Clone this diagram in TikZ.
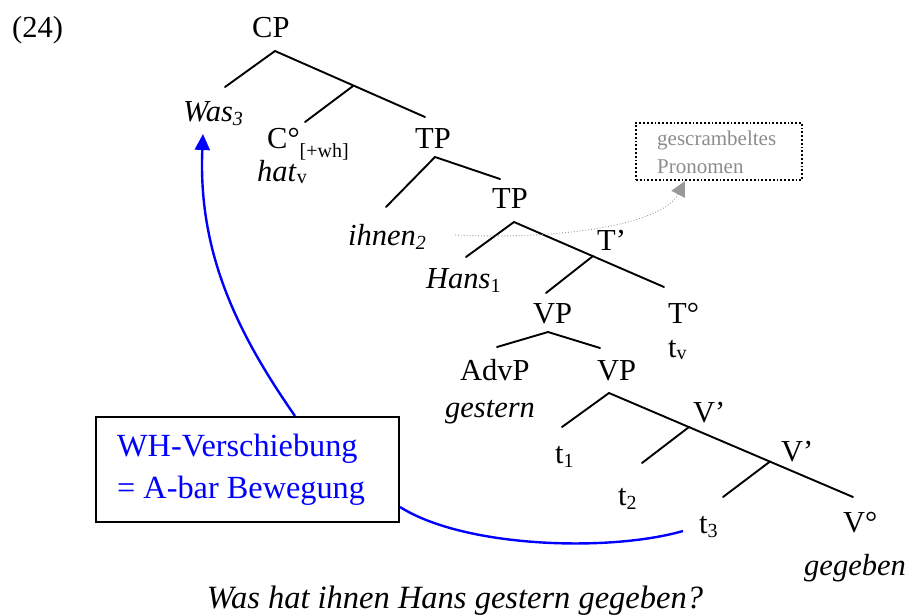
\documentclass[tikz,border=0pt]{standalone}
\usepackage{fontspec}
\setmainfont{Liberation Serif}
\usetikzlibrary{arrows.meta}
\newcommand\lsub[2][4pt]{\raisebox{-#1}{\fontsize{20}{20}\selectfont #2}}
\begin{document}
\begin{tikzpicture}[x=1pt,y=-1pt,
  lab/.style={inner sep=0pt, anchor=base west, font=\fontsize{30.5}{36}\selectfont},
  branch/.style={line width=1.9pt, line cap=round},
  bluetxt/.style={inner sep=0pt, anchor=base west, font=\fontsize{32.3}{36}\selectfont, text={rgb,255:red,0;green,0;blue,255}},
  graytxt/.style={inner sep=0pt, anchor=base west, font=\fontsize{21}{24}\selectfont, text=black!45},
  movearrow/.style={line width=2.4pt, draw={rgb,255:red,0;green,0;blue,255}},
]
\useasboundingbox (0,0) rectangle (910,614);
% labels
\node[lab] (num) at (12,37) {(24)};
\node[lab] (cp) at (252,37) {CP};
\node[lab] (was) at (183,121) {\textit{Was}\lsub{\textit{3}}};
\node[lab] (c) at (267,148) {C°\lsub[9pt]{[+wh]}};
\node[lab] (hat) at (257,181) {\textit{hat}\lsub[2pt]{v}};
\node[lab] (tp1) at (415,148) {TP};
\node[lab] (ihnen) at (348,245) {\textit{ihnen}\lsub{\textit{2}}};
\node[lab] (tp2) at (492,208) {TP};
\node[lab] (tbar) at (597,250) {T’};
\node[lab] (hans) at (426,288) {\textit{Hans}\lsub{1}};
\node[lab] (vp1) at (533,323) {VP};
\node[lab] (t0) at (668,323) {T°};
\node[lab] (tv) at (668,357) {t\lsub[2pt]{v}};
\node[lab] (advp) at (460,380) {AdvP};
\node[lab] (gestern) at (445,417) {\textit{gestern}};
\node[lab] (vp2) at (597,380) {VP};
\node[lab] (t1) at (555,463) {t\lsub{1}};
\node[lab] (vbar1) at (693,422) {V’};
\node[lab] (t2) at (618,505) {t\lsub{2}};
\node[lab] (vbar2) at (781,461) {V’};
\node[lab] (t3) at (699,533) {t\lsub{3}};
\node[lab] (v0) at (843,532) {V°};
\node[lab] (gegeben) at (804,575) {\textit{gegeben}};
\node[lab, anchor=base, font=\fontsize{32.5}{36}\selectfont] (sent) at (455,608) {\textit{Was hat ihnen Hans gestern gegeben?}};
% tree coordinates
\coordinate (cpj) at (275,51);
\coordinate (wasj) at (225,87);
\coordinate (cpr) at (425,117);
\coordinate (cbarj) at (353,86);
\coordinate (cj) at (305,122);
\coordinate (tp1j) at (435,157);
\coordinate (ihj) at (386,207);
\coordinate (tp1r) at (500,179);
\coordinate (tp2j) at (514,222);
\coordinate (hansj) at (466,257);
\coordinate (tp2r) at (664,287);
\coordinate (tbarj) at (593,256);
\coordinate (vp1top) at (546,293);
\coordinate (vp1j) at (548,332);
\coordinate (advj) at (497,347);
\coordinate (vp1r) at (600,348);
\coordinate (vp2j) at (609,393);
\coordinate (t1j) at (562,427);
\coordinate (vp2r) at (853,497);
\coordinate (vb1j) at (689,427);
\coordinate (t2j) at (642,463);
\coordinate (vb2j) at (770,461.5);
\coordinate (t3j) at (723,497);
% branches
\draw[branch] (wasj) -- (cpj) -- (cpr);
\draw[branch] (cbarj) -- (cj);
\draw[branch] (ihj) -- (tp1j) -- (tp1r);
\draw[branch] (hansj) -- (tp2j) -- (tp2r);
\draw[branch] (tbarj) -- (vp1top);
\draw[branch] (advj) -- (vp1j) -- (vp1r);
\draw[branch] (t1j) -- (vp2j) -- (vp2r);
\draw[branch] (vb1j) -- (t2j);
\draw[branch] (vb2j) -- (t3j);
% scrambling note
\node[draw, dotted, line width=1.8pt, minimum width=166pt, minimum height=57pt, inner sep=0pt] (scr) at (719,151.5) {};
\node[graytxt] (scr1) at (657,145) {gescrambeltes};
\node[graytxt] (scr2) at (657,173) {Pronomen};
\coordinate (scrstart) at (455,235);
\coordinate (scrend) at (685,181);
\draw[black!40, dotted, line width=0.9pt, -{Triangle[length=15pt,width=15pt]}] (scrstart) .. controls (560,240) and (662,225) .. (scrend);
% WH box
\node[draw, fill=white, line width=2pt, minimum width=303pt, minimum height=105pt, inner sep=0pt] (box) at (247.5,469.5) {};
\node[bluetxt] (wh1) at (117,456) {WH-Verschiebung};
\node[bluetxt] (wh2) at (117,498) {= A-bar Bewegung};
\coordinate (boxtop) at (295,416);
\coordinate (boxright) at (400,507);
\coordinate (wastip) at (203,134);
\coordinate (t3left) at (683,531);
\draw[movearrow, -{Triangle[length=16pt,width=15pt]}] (boxtop) .. controls (235,330) and (198,250) .. (wastip);
\draw[movearrow] (boxright) .. controls (465,548) and (610,552) .. (t3left);
\end{tikzpicture}
\end{document}
